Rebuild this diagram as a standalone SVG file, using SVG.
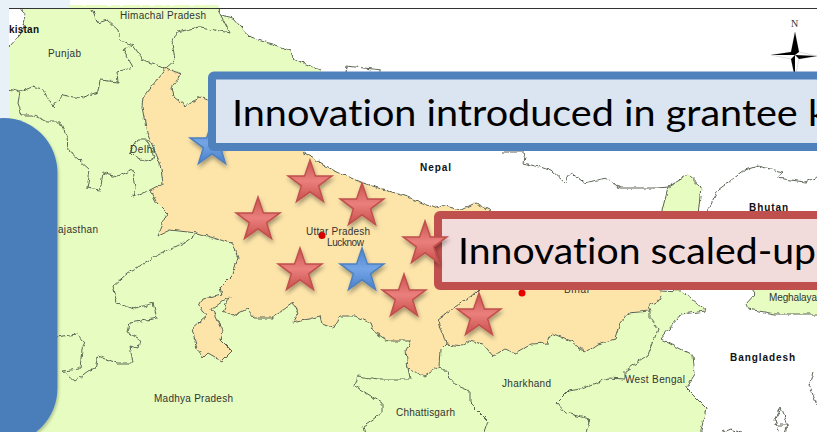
<svg xmlns="http://www.w3.org/2000/svg" width="817" height="432" viewBox="0 0 817 432">
<style>
.b{fill:none;stroke:#5c6456;stroke-width:1;stroke-linejoin:round}
.l{font-family:"Liberation Sans",Arial,sans-serif;font-size:10px;fill:#333}
.k{font-family:"Liberation Sans",Arial,sans-serif;font-size:10px;font-weight:bold;fill:#111}
.t{font-family:Lato,"Open Sans",sans-serif;font-size:36px;fill:#000;font-variant-ligatures:none}
.rs{fill:url(#rg);stroke:#c0504d;stroke-width:1.5;filter:url(#sh)}
.bs{fill:url(#bg);stroke:#4f81bd;stroke-width:1.5;filter:url(#sh)}
</style>
<defs>
<linearGradient id="rg" x1="0" y1="0" x2="0" y2="1"><stop offset="0" stop-color="#c9524f"/><stop offset=".5" stop-color="#ea7f7c"/><stop offset="1" stop-color="#c94f4c"/></linearGradient>
<linearGradient id="bg" x1="0" y1="0" x2="0" y2="1"><stop offset="0" stop-color="#4a82cf"/><stop offset=".5" stop-color="#74a5e6"/><stop offset="1" stop-color="#4a80cc"/></linearGradient>
<filter id="sh" x="-30%" y="-30%" width="160%" height="170%"><feDropShadow dx="1" dy="3" stdDeviation="2" flood-color="#000" flood-opacity=".35"/></filter>
<filter id="ps" x="-5%" y="-5%" width="110%" height="110%"><feDropShadow dx="1" dy="2" stdDeviation="1.500" flood-color="#000" flood-opacity=".25"/></filter>
<filter id="rough" x="0" y="0" width="100%" height="100%"><feTurbulence type="fractalNoise" baseFrequency="0.16" numOctaves="2" seed="4"/><feDisplacementMap in="SourceGraphic" scale="5" xChannelSelector="R" yChannelSelector="G"/></filter>
<path id="star" d="M0,-23 L5.4,-7.1 L21.9,-7.1 L8.6,2.8 L13.5,18.6 L0,8.8 L-13.5,18.6 L-8.6,2.8 L-21.9,-7.1 L-5.4,-7.1 Z"/>
</defs>
<rect width="817" height="432" fill="#fff"/>
<g id="map" filter="url(#rough)">
<path id="india" fill="#e6fcc0" d="M23,5 L218,5 L222,15 L233,18 L250,37 L290,50 L292,58 L320,70 L330,100 L303,152 L333,170 L360,182 L408,197 L435,208 L461,210 L491,211 L495,230 L660,230 L661,290 L681,291 L706,311 L681,314 L661,339 L693,356 L695,374 L686,388 L706,408 L700,436 L5,436 L5,47 L9,47 L20,35 L25,20 Z"/>
<path fill="#e6fcc0" d="M661,240 L661,211 L668,187 L688,175 L701,187 L698,240 Z"/>
<path fill="#e6fcc0" d="M748,285 L822,285 L822,314 L775,314 L748,309 L746,304 L755,294 Z"/>
<path id="up-bihar" fill="#fde5aa" d="M166,68 L181,74 L172,88 L174,97 L185,106 L200,97 L208,100 L260,110 L303,152 L333,170 L360,182 L408,197 L435,208 L441,205 L461,210 L475,203 L491,211 L491,250 L660,250 L661,299 L648,306 L650,311 L628,313 L620,323 L615,339 L598,344 L585,353 L571,341 L551,333 L548,343 L531,344 L515,353 L505,349 L493,356 L483,344 L470,341 L463,346 L446,344 L441,349 L440,366 L425,376 L408,369 L406,350 L411,341 L388,341 L373,331 L370,323 L355,316 L340,316 L333,328 L322,324 L320,316 L293,323 L298,314 L293,303 L272,318 L255,318 L247,309 L233,316 L223,311 L230,296 L212,309 L222,331 L220,339 L232,351 L222,361 L208,353 L203,358 L197,348 L192,329 L207,316 L199,306 L203,298 L222,294 L220,288 L232,276 L238,258 L232,243 L217,239 L197,233 L170,230 L157,236 L162,224 L167,213 L157,203 L150,190 L163,183 L160,163 L147,133 L142,107 L143,97 Z"/>
<path class="b" d="M166,68 L181,74 L172,88 L174,97 L185,106 L200,97 L208,100 L260,110 L303,152 L333,170 L360,182 L408,197 L435,208 L441,205 L461,210 L475,203 L491,211"/>
<path class="b" d="M660,290 L661,299 L648,306 L650,311 L628,313 L620,323 L615,339 L598,344 L585,353 L571,341 L551,333 L548,343 L531,344 L515,353 L505,349 L493,356 L483,344 L470,341 L463,346 L446,344 L441,349 L440,366 L425,376 L408,369 L406,350 L411,341 L388,341 L373,331 L370,323 L355,316 L340,316 L333,328 L322,324 L320,316 L293,323 L298,314 L293,303 L272,318 L255,318 L247,309 L233,316 L223,311 L230,296 L212,309 L222,331 L220,339 L232,351 L222,361 L208,353 L203,358 L197,348 L192,329 L207,316 L199,306 L203,298 L222,294 L220,288 L232,276 L238,258 L232,243 L217,239 L197,233 L170,230 L157,236 L162,224 L167,213 L157,203 L150,190 L163,183 L160,163 L147,133 L142,107 L143,97 L166,68"/>
<path class="b" d="M446,344 L438,319 L475,293 L480,288"/>
<path class="b" d="M218,9 L222,15 L233,18 L250,37 L290,50 L292,58 L320,70"/>
<path class="b" d="M345,72 L346,66 L382,70"/>
<path class="b" d="M23,9 L25,20 L20,35 L9,47"/>
<path class="b" d="M92,9 L98,23 L107,20 L118,30 L120,40 L133,45 L143,60 L157,65 L166,68 L175,60 L172,43 L177,32 L200,27 L230,33 L218,10"/>
<path class="b" d="M133,45 L123,50 L133,67 L117,72 L118,82 L100,80 L98,92 L80,98 L63,95 L53,107 L43,90 L32,87 L20,92 L5,88"/>
<path class="b" d="M20,92 L18,103 L22,115 L33,115 L47,122 L60,122 L67,137 L68,150 L90,170 L87,188 L100,190 L103,173 L117,177 L132,170 L135,187 L133,197 L150,190"/>
<path class="b" d="M130,152 L137,140 L147,140 L155,157 L147,162 L133,155 Z"/>
<path class="b" d="M197,233 L187,241 L153,258 L128,273 L113,286 L117,303 L133,309 L153,303 L157,318 L130,323 L128,333 L140,339 L138,348 L130,346 L133,363 L117,363 L98,356 L95,368 L88,371 L75,381 L63,371 L80,369 L82,349 L85,343 L77,334 L50,338"/>
<path class="b" d="M410,379 L377,379 L358,376 L355,386 L382,403 L382,413 L363,426 L365,436"/>
<path class="b" d="M410,379 L408,369"/>
<path class="b" d="M440,366 L458,386 L470,391 L470,403 L488,421 L483,436"/>
<path class="b" d="M650,311 L650,319 L658,329 L648,356 L625,371 L625,379 L608,378 L581,389 L568,391 L556,403 L565,413 L590,419 L585,436"/>
<path class="b" d="M661,290 L681,291 L706,311 L681,314 L661,339 L693,356 L695,374 L686,388 L706,408 L700,436"/>
<path class="b" d="M503,152 L525,152 L523,163 L551,170 L565,183 L571,173 L585,183 L605,178 L620,188 L658,188 L668,187 L688,175 L701,187 L698,215"/>
<path class="b" d="M668,187 L661,215"/>
<path class="b" d="M705,215 L718,190 L745,170 L758,166 L783,172 L776,178 L805,182 L822,175"/>
<path class="b" d="M748,285 L755,294 L746,304 L748,309 L775,314 L822,314"/>
<path class="b" d="M813,372 L809,385 L817,405"/>
<path class="b" d="M781,408 L774,420 L780,436 M781,408 L788,425 L784,436 M774,425 L790,425"/>
<path class="b" d="M718,434 L730,429 L745,434"/>
</g>
<g id="labels">
<text class="l" x="120" y="19" textLength="86">Himachal Pradesh</text>
<text class="k" x="9" y="33" textLength="30">kistan</text>
<text class="l" x="48" y="57" textLength="33">Punjab</text>
<text class="l" x="130" y="153" textLength="25">Delhi</text>
<text class="l" x="58" y="233" textLength="40">ajasthan</text>
<text class="l" x="306" y="235" textLength="64">Uttar Pradesh</text>
<text class="l" x="327" y="246" textLength="37">Lucknow</text>
<text class="l" x="154" y="402" textLength="79">Madhya Pradesh</text>
<text class="l" x="396" y="416" textLength="59">Chhattisgarh</text>
<text class="l" x="502" y="387" textLength="49">Jharkhand</text>
<text class="l" x="625" y="383" textLength="60">West Bengal</text>
<text class="l" x="564" y="293" textLength="26">Bihar</text>
<text class="l" x="769" y="301" textLength="48">Meghalaya</text>
<text class="k" x="420" y="171" textLength="31">Nepal</text>
<text class="k" x="749" y="211" textLength="39">Bhutan</text>
<text class="k" x="730" y="361" textLength="65">Bangladesh</text>
<text x="791" y="27" font-family="Liberation Serif,serif" font-size="10" fill="#333">N</text>
</g>
<circle cx="322" cy="235.500" r="3.500" fill="#d40000"/>
<circle cx="522" cy="293" r="3.500" fill="#e80000"/>
<g id="compass">
<path d="M795,32 L799,52 L817,56 L799,59 L795,78 L791,59 L771,55 L791,52 Z" fill="#fff" stroke="#bbb" stroke-width=".5"/>
<path d="M795,32 L795,55 L791,52 Z M795,55 L771,55 L791,52 Z M795,55 L817,56 L799,59 Z M795,55 L795,78 L791,59 Z M795,55 L799,52 L795,32 Z" fill="#000"/>
</g>
<path id="frame-left" fill="#e8f0f8" d="M0,0 H70 V8 H9 V125 H0 Z"/>
<line x1="9" y1="8.500" x2="817" y2="8.500" stroke="#333" stroke-width="1"/>
<g id="panel"><rect x="-50" y="118" width="107.500" height="325" rx="55" fill="#4a7ebb" filter="url(#ps)"/></g>
<g id="stars-back"><use href="#star" class="bs" x="212" y="145"/></g>
<g id="box-introduced">
<rect x="212" y="75.500" width="640" height="71.500" rx="2" fill="#dbe5f1" stroke="#4f81bd" stroke-width="8"/>
<text class="t" x="232" y="126" textLength="596" lengthAdjust="spacingAndGlyphs">Innovation introduced in grantee k</text>
</g>
<g id="stars-mid">
<use href="#star" class="rs" x="310" y="183"/>
<use href="#star" class="rs" x="362" y="206"/>
<use href="#star" class="rs" x="258" y="220"/>
<use href="#star" class="rs" x="300" y="271"/>
<use href="#star" class="bs" x="362" y="271"/>
<use href="#star" class="rs" x="404" y="297"/>
<use href="#star" class="rs" x="479" y="316"/>
</g>
<g id="box-scaled">
<rect x="438" y="215" width="420" height="71" rx="2" fill="#f2dcdb" stroke="#c0504d" stroke-width="8"/>
<text class="t" x="458" y="264" textLength="358" lengthAdjust="spacingAndGlyphs">Innovation scaled-up</text>
</g>
<use id="star-over" href="#star" class="rs" x="425" y="244"/>
</svg>
